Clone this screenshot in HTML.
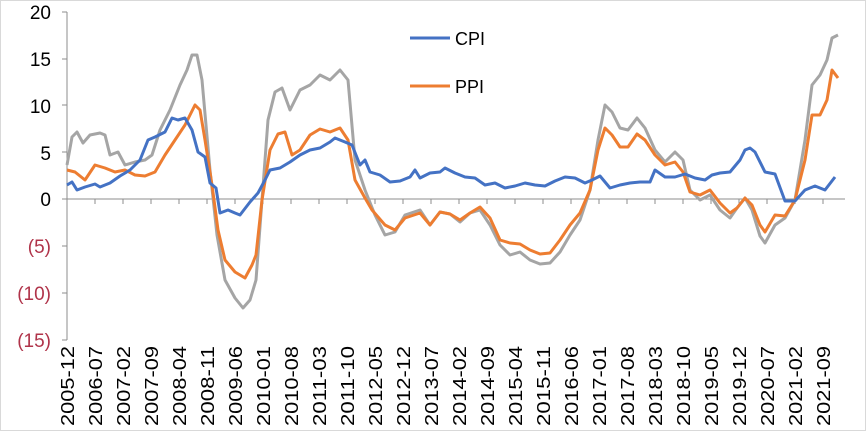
<!DOCTYPE html>
<html><head><meta charset="utf-8"><style>
body{margin:0;background:#fff}
svg{display:block}
text{font-family:"Liberation Sans",sans-serif}
</style></head><body>
<svg width="866" height="431" viewBox="0 0 866 431">
<rect x="0.5" y="0.5" width="865" height="430" fill="#fff" stroke="#d9d9d9"/>
<g font-size="19" text-anchor="end">
<text x="51" y="19">20</text>
<text x="51" y="66">15</text>
<text x="51" y="113">10</text>
<text x="51" y="160">5</text>
<text x="51" y="206">0</text>
<g fill="#b0344a"><text x="51" y="253">(5)</text><text x="51" y="300">(10)</text><text x="51" y="347">(15)</text></g>
</g>
<g stroke="#8c8c8c" stroke-width="1">
<line x1="67" y1="12" x2="67" y2="340"/>
<line x1="62" y1="12" x2="67" y2="12"/><line x1="62" y1="59" x2="67" y2="59"/><line x1="62" y1="105" x2="67" y2="105"/><line x1="62" y1="152" x2="67" y2="152"/><line x1="62" y1="199" x2="67" y2="199"/><line x1="62" y1="246" x2="67" y2="246"/><line x1="62" y1="293" x2="67" y2="293"/><line x1="62" y1="340" x2="67" y2="340"/>
<line x1="67" y1="199" x2="845" y2="199"/>
<path d="M95 199v5M123 199v5M151 199v5M179 199v5M207 199v5M235 199v5M263 199v5M291 199v5M319 199v5M347 199v5M375 199v5M403 199v5M431 199v5M459 199v5M487 199v5M515 199v5M543 199v5M571 199v5M599 199v5M627 199v5M655 199v5M683 199v5M711 199v5M739 199v5M767 199v5M795 199v5M823 199v5"/>
</g>
<g font-size="18" fill="#000">
<text transform="translate(74,426) rotate(-90)" textLength="80" lengthAdjust="spacingAndGlyphs">2005-12</text>
<text transform="translate(102,426) rotate(-90)" textLength="80" lengthAdjust="spacingAndGlyphs">2006-07</text>
<text transform="translate(130,426) rotate(-90)" textLength="80" lengthAdjust="spacingAndGlyphs">2007-02</text>
<text transform="translate(158,426) rotate(-90)" textLength="80" lengthAdjust="spacingAndGlyphs">2007-09</text>
<text transform="translate(186,426) rotate(-90)" textLength="80" lengthAdjust="spacingAndGlyphs">2008-04</text>
<text transform="translate(214,426) rotate(-90)" textLength="80" lengthAdjust="spacingAndGlyphs">2008-11</text>
<text transform="translate(242,426) rotate(-90)" textLength="80" lengthAdjust="spacingAndGlyphs">2009-06</text>
<text transform="translate(270,426) rotate(-90)" textLength="80" lengthAdjust="spacingAndGlyphs">2010-01</text>
<text transform="translate(298,426) rotate(-90)" textLength="80" lengthAdjust="spacingAndGlyphs">2010-08</text>
<text transform="translate(326,426) rotate(-90)" textLength="80" lengthAdjust="spacingAndGlyphs">2011-03</text>
<text transform="translate(354,426) rotate(-90)" textLength="80" lengthAdjust="spacingAndGlyphs">2011-10</text>
<text transform="translate(382,426) rotate(-90)" textLength="80" lengthAdjust="spacingAndGlyphs">2012-05</text>
<text transform="translate(410,426) rotate(-90)" textLength="80" lengthAdjust="spacingAndGlyphs">2012-12</text>
<text transform="translate(438,426) rotate(-90)" textLength="80" lengthAdjust="spacingAndGlyphs">2013-07</text>
<text transform="translate(466,426) rotate(-90)" textLength="80" lengthAdjust="spacingAndGlyphs">2014-02</text>
<text transform="translate(494,426) rotate(-90)" textLength="80" lengthAdjust="spacingAndGlyphs">2014-09</text>
<text transform="translate(522,426) rotate(-90)" textLength="80" lengthAdjust="spacingAndGlyphs">2015-04</text>
<text transform="translate(550,426) rotate(-90)" textLength="80" lengthAdjust="spacingAndGlyphs">2015-11</text>
<text transform="translate(578,426) rotate(-90)" textLength="80" lengthAdjust="spacingAndGlyphs">2016-06</text>
<text transform="translate(606,426) rotate(-90)" textLength="80" lengthAdjust="spacingAndGlyphs">2017-01</text>
<text transform="translate(634,426) rotate(-90)" textLength="80" lengthAdjust="spacingAndGlyphs">2017-08</text>
<text transform="translate(662,426) rotate(-90)" textLength="80" lengthAdjust="spacingAndGlyphs">2018-03</text>
<text transform="translate(690,426) rotate(-90)" textLength="80" lengthAdjust="spacingAndGlyphs">2018-10</text>
<text transform="translate(718,426) rotate(-90)" textLength="80" lengthAdjust="spacingAndGlyphs">2019-05</text>
<text transform="translate(746,426) rotate(-90)" textLength="80" lengthAdjust="spacingAndGlyphs">2019-12</text>
<text transform="translate(774,426) rotate(-90)" textLength="80" lengthAdjust="spacingAndGlyphs">2020-07</text>
<text transform="translate(802,426) rotate(-90)" textLength="80" lengthAdjust="spacingAndGlyphs">2021-02</text>
<text transform="translate(830,426) rotate(-90)" textLength="80" lengthAdjust="spacingAndGlyphs">2021-09</text>
</g>
<g fill="none" stroke-width="3" stroke-linejoin="round">
<polyline stroke="#a5a5a5" points="67,165 72,137 77,132 83,143 90,135 100,133 105,135 110,155 118,152 125,165 135,162 145,160 152,155 160,130 170,110 180,85 187,70 192,55 197,55 202,80 210,170 217,235 225,280 235,298 243,308 250,300 256,280 262,200 268,120 275,92 282,88 290,110 300,90 310,85 320,75 330,80 340,70 348,80 355,160 365,190 375,215 385,235 395,232 405,215 420,210 430,225 440,212 450,214 460,222 470,213 480,210 490,225 500,245 510,255 520,252 530,260 540,264 550,263 560,252 570,235 580,220 590,190 598,140 605,105 612,112 620,128 628,130 637,118 645,128 655,150 665,162 675,152 683,160 690,190 700,200 710,195 720,210 730,218 737,208 745,198 752,210 760,236 765,243 775,225 785,218 795,200 805,140 812,85 820,75 827,60 832,38 838,35"/>
<polyline stroke="#ed7d31" points="67,170 75,172 85,180 95,165 105,168 115,172 125,170 135,175 145,176 155,172 165,155 175,140 185,125 190,115 195,105 200,110 205,140 212,185 218,230 225,260 235,272 245,278 252,265 256,255 262,200 270,150 278,134 285,132 292,155 300,150 310,135 320,129 330,132 340,128 348,140 355,180 365,198 372,210 385,225 395,230 405,218 420,213 430,225 440,212 450,214 460,220 470,213 480,207 490,218 500,240 510,243 520,244 530,250 540,254 550,253 560,240 570,225 580,213 590,190 598,150 605,128 612,135 620,147 628,147 637,134 645,140 655,155 665,165 675,162 683,172 690,192 700,195 710,190 720,203 730,213 737,208 745,198 752,205 760,225 765,232 775,215 785,216 795,200 805,160 812,115 820,115 827,100 832,70 838,78"/>
<polyline stroke="#4472c4" points="67,185 72,182 77,190 85,187 95,184 100,187 110,183 120,176 130,170 140,160 148,140 155,137 165,132 172,118 178,120 185,118 192,130 198,152 205,157 210,183 216,188 220,213 228,210 235,213 240,215 250,202 258,193 265,180 270,170 280,168 290,162 300,155 310,150 320,148 330,142 335,138 345,142 352,145 360,165 365,160 370,172 380,175 390,182 400,181 410,177 415,170 420,178 430,173 440,172 445,168 455,173 465,177 475,178 485,185 495,183 505,188 515,186 525,183 535,185 545,186 555,181 565,177 575,178 585,183 592,180 600,176 610,188 620,185 630,183 640,182 650,182 655,170 665,177 675,177 685,174 695,178 705,180 712,175 720,173 730,172 740,160 745,150 750,148 755,152 765,172 775,174 785,201 795,201 805,190 815,186 825,190 835,177"/>
<line x1="410" y1="38" x2="450" y2="38" stroke="#4472c4"/>
<line x1="410" y1="86" x2="450" y2="86" stroke="#ed7d31"/>
</g>
<text x="455" y="45" font-size="18">CPI</text>
<text x="455" y="93" font-size="18">PPI</text>
</svg>
</body></html>
